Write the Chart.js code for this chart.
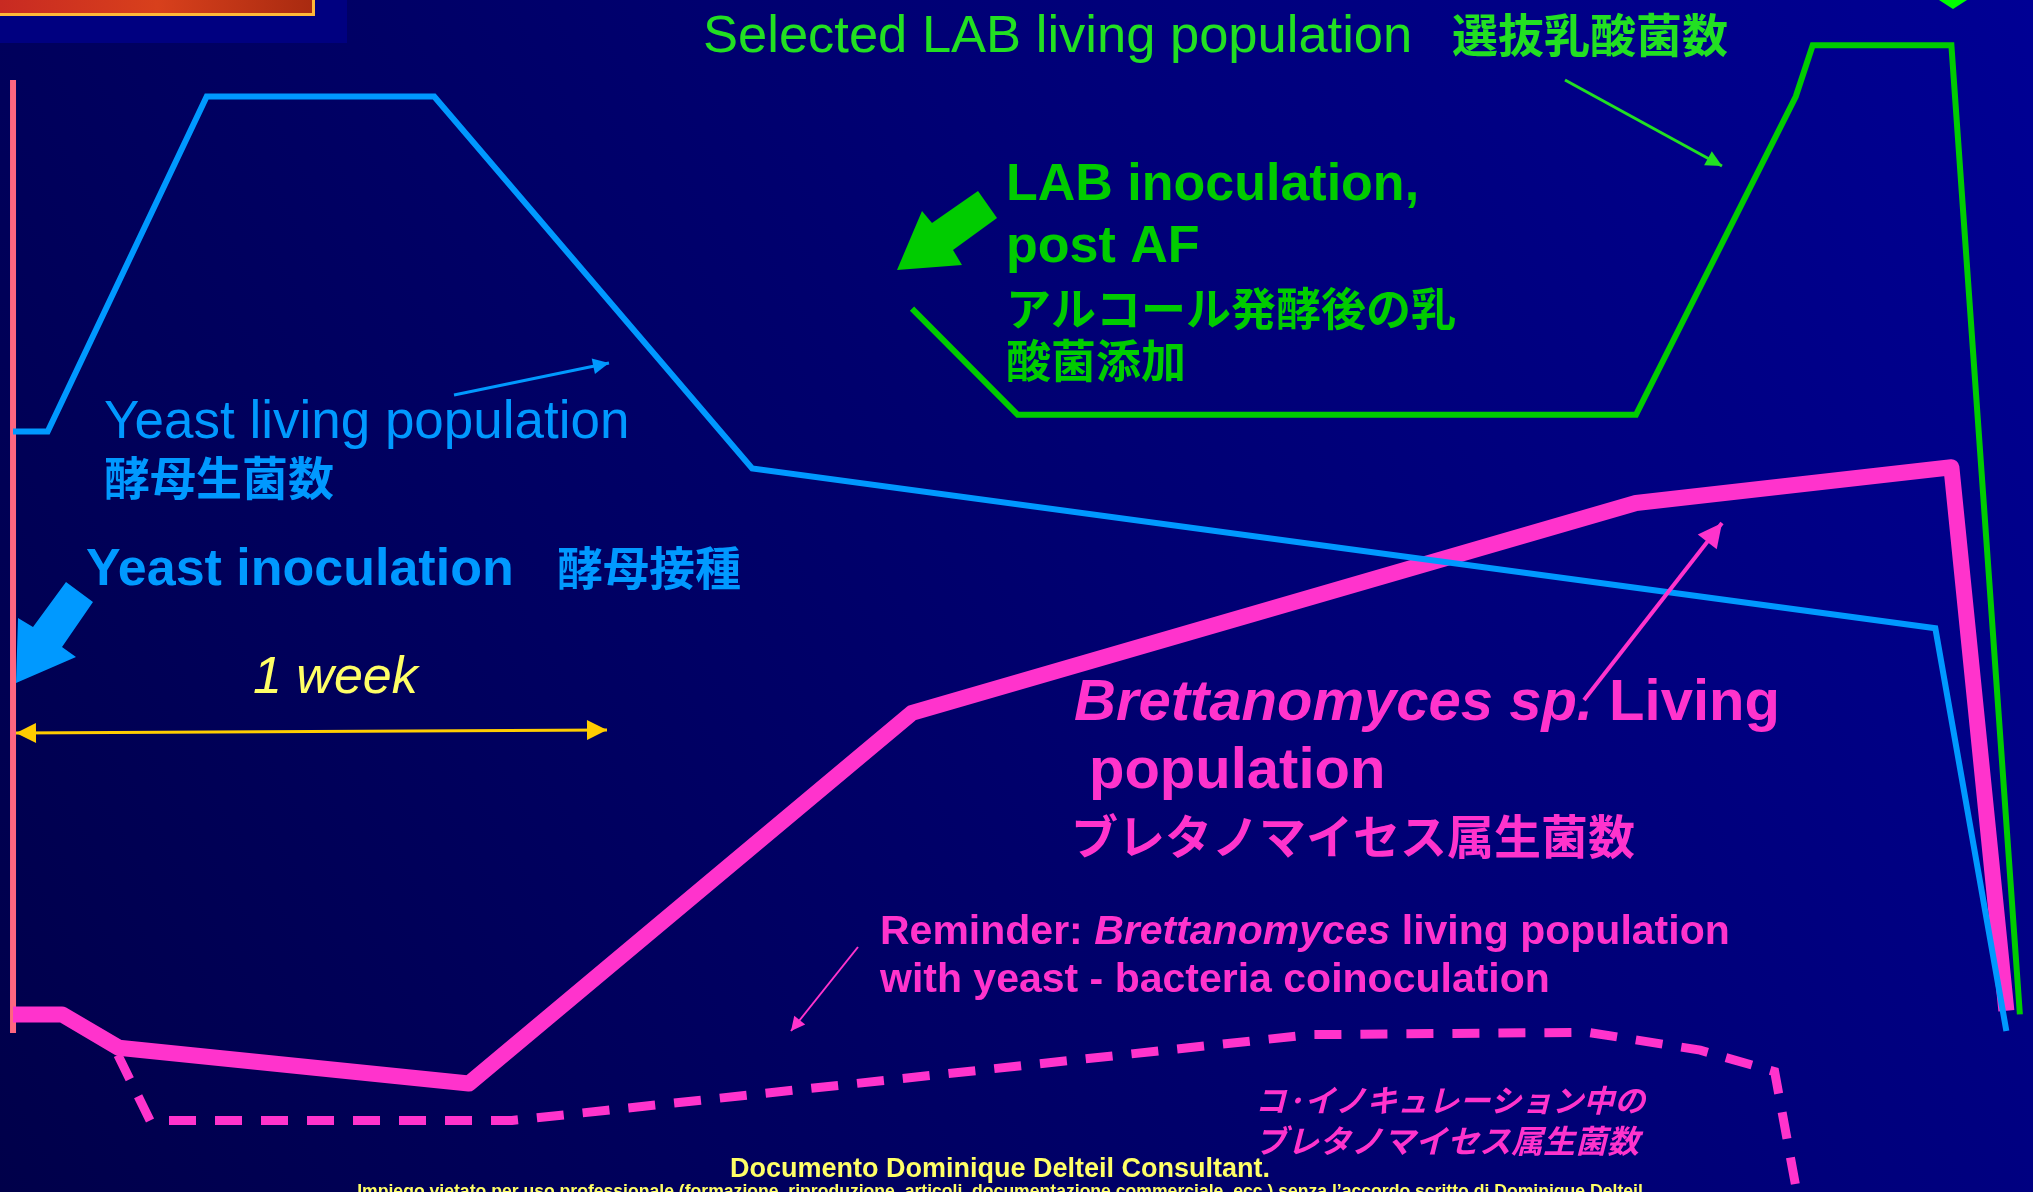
<!DOCTYPE html>
<html>
<head>
<meta charset="utf-8">
<script src="https://cdn.jsdelivr.net/npm/chart.js@4.4.1/dist/chart.umd.min.js"></script>
<style>
  html, body { margin: 0; padding: 0; background: #000060; overflow: hidden; }
  #myChart { display: block; width: 2033px; height: 1192px; }
</style>
</head>
<body>
<canvas id="myChart" width="2033" height="1192"></canvas>
<script>
// time in days after yeast inoculation, population in relative units (0-100)
const dayMin = -0.154;
const dayMax = 23.885;

const yeastDays = [0, 0.41, 2.29, 4.98, 8.74, 22.73, 23.57];
const yeastPop  = [63.8, 63.8, 91.9, 91.9, 60.7, 47.3, 13.5];

const labDays = [10.63, 11.88, 19.19, 21.08, 21.28, 22.92, 23.73];
const labPop  = [74.1, 65.2, 65.2, 91.9, 96.2, 96.2, 14.9];

const brettDays = [0, 0.58, 1.25, 5.39, 10.63, 19.19, 22.92, 23.57];
const brettPop  = [14.9, 14.9, 12.1, 9.1, 40.2, 57.8, 60.8, 15.2];

// reminder: brett with yeast - bacteria coinoculation
const coinocDays = [1.24, 1.62, 5.90, 15.34, 18.62, 19.95, 20.83, 21.11];
const coinocPop  = [11.5, 6.0, 6.0, 13.2, 13.4, 11.9, 10.1, -0.7];

const BLUE = '#0099ff';
const GREEN = '#00cc00';
const PINK = '#ff33cc';
const YELLOW = '#ffff66';

const latin = '"Liberation Sans", Arial, sans-serif';
const jp = '"Noto Sans CJK JP", sans-serif';

function pts(xs, ys) {
  return xs.map((x, i) => ({ x: x, y: ys[i] }));
}

function put(c, text, x, y, font, color, align, baseline) {
  c.font = font;
  c.fillStyle = color;
  c.textAlign = align || 'left';
  c.textBaseline = baseline || 'alphabetic';
  c.fillText(text, x, y);
}

// several font runs on one line
function runs(c, parts, x, y, color) {
  c.fillStyle = color;
  c.textAlign = 'left';
  c.textBaseline = 'alphabetic';
  parts.forEach(p => {
    c.font = p[1];
    c.fillText(p[0], x, y);
    x += c.measureText(p[0]).width;
  });
}

function arrow(c, x1, y1, x2, y2, color, lw, head, both) {
  c.strokeStyle = color;
  c.fillStyle = color;
  c.lineWidth = lw;
  const a = Math.atan2(y2 - y1, x2 - x1);
  const tip = (x, y, ang) => {
    c.beginPath();
    c.moveTo(x, y);
    c.lineTo(x - head * Math.cos(ang) + head * 0.5 * Math.sin(ang), y - head * Math.sin(ang) - head * 0.5 * Math.cos(ang));
    c.lineTo(x - head * Math.cos(ang) - head * 0.5 * Math.sin(ang), y - head * Math.sin(ang) + head * 0.5 * Math.cos(ang));
    c.closePath();
    c.fill();
  };
  c.beginPath();
  c.moveTo(x1, y1);
  c.lineTo(x2, y2);
  c.stroke();
  tip(x2, y2, a);
  if (both) tip(x1, y1, a + Math.PI);
}

function poly(c, p, color) {
  c.fillStyle = color;
  c.beginPath();
  c.moveTo(p[0][0], p[0][1]);
  for (let i = 1; i < p.length; i++) c.lineTo(p[i][0], p[i][1]);
  c.closePath();
  c.fill();
}

const slide = {
  id: 'slide',
  beforeDraw(chart) {
    const c = chart.ctx, w = chart.width, h = chart.height;
    c.save();
    const g = c.createLinearGradient(0, h, w, 0);
    g.addColorStop(0, '#00004a');
    g.addColorStop(0.5, '#00006e');
    g.addColorStop(1, '#000094');
    c.fillStyle = g;
    c.fillRect(0, 0, w, h);
    // photo strip, top left
    c.fillStyle = '#000080';
    c.fillRect(0, 0, 347, 43);
    const r = c.createLinearGradient(0, 0, 315, 0);
    r.addColorStop(0, '#c82a22');
    r.addColorStop(0.5, '#d8401c');
    r.addColorStop(1, '#a82a10');
    c.fillStyle = r;
    c.fillRect(0, 0, 315, 16);
    c.fillStyle = '#ffb838';
    c.fillRect(0, 13, 315, 3);
    c.fillRect(312, 0, 3, 16);
    // small green marker at top right
    poly(c, [[1939, 0], [1967, 0], [1953, 9]], '#00ff00');
    c.restore();
  },
  beforeDatasetsDraw(chart) {
    const c = chart.ctx;
    const x0 = chart.scales.x.getPixelForValue(0);
    c.save();
    c.strokeStyle = '#ff6680';
    c.lineWidth = 6;
    c.beginPath();
    c.moveTo(x0, 80);
    c.lineTo(x0, 1033);
    c.stroke();
    c.restore();
  },
  afterDatasetsDraw(chart) {
    const c = chart.ctx;
    c.save();

    // LAB
    put(c, 'Selected LAB living population', 703, 52, '52.5px ' + latin, '#22e022');
    put(c, '選抜乳酸菌数', 1452, 35, 'bold 46px ' + jp, '#22e022', 'left', 'middle');
    arrow(c, 1565, 80, 1722, 166, '#22e022', 3, 16);
    put(c, 'LAB inoculation,', 1006, 200, 'bold 52px ' + latin, GREEN);
    put(c, 'post AF', 1006, 262, 'bold 52px ' + latin, GREEN);
    put(c, 'アルコール発酵後の乳', 1006, 309, 'bold 45px ' + jp, GREEN, 'left', 'middle');
    put(c, '酸菌添加', 1006, 361, 'bold 45px ' + jp, GREEN, 'left', 'middle');
    poly(c, [[897, 270], [922, 211], [932, 223], [978, 191], [997, 218], [953, 250], [962, 265]], GREEN);

    // yeast
    put(c, 'Yeast living population', 104, 438, '53px ' + latin, BLUE);
    put(c, '酵母生菌数', 104, 478, 'bold 46px ' + jp, BLUE, 'left', 'middle');
    arrow(c, 454, 395, 609, 363, BLUE, 3, 16);
    put(c, 'Yeast inoculation', 86, 585, 'bold 52px ' + latin, BLUE);
    put(c, '酵母接種', 557, 568, 'bold 46px ' + jp, BLUE, 'left', 'middle');
    poly(c, [[16, 683], [18, 618], [33, 627], [66, 582], [93, 602], [62, 647], [76, 657]], BLUE);

    // one week
    put(c, '1 week', 253, 693, 'italic 52px ' + latin, YELLOW);
    arrow(c, 16, 733, 607, 730, '#ffcc00', 3, 20, true);

    // brettanomyces
    runs(c, [['Brettanomyces sp.', 'italic bold 58px ' + latin], [' Living', 'bold 58px ' + latin]], 1074, 720, PINK);
    put(c, 'population', 1089, 788, 'bold 58px ' + latin, PINK);
    put(c, 'ブレタノマイセス属生菌数', 1071, 836, 'bold 47px ' + jp, PINK, 'left', 'middle');
    arrow(c, 1584, 700, 1722, 523, PINK, 4, 24);

    runs(c, [['Reminder: ', 'bold 41px ' + latin], ['Brettanomyces', 'italic bold 41px ' + latin], [' living population', 'bold 41px ' + latin]], 880, 944, PINK);
    put(c, 'with yeast - bacteria coinoculation', 880, 992, 'bold 41px ' + latin, PINK);
    arrow(c, 858, 947, 791, 1031, PINK, 2, 14);
    put(c, 'コ·イノキュレーション中の', 1255, 1100, 'italic bold 31px ' + jp, PINK, 'left', 'middle');
    put(c, 'ブレタノマイセス属生菌数', 1255, 1141, 'italic bold 32px ' + jp, PINK, 'left', 'middle');

    // footer
    put(c, 'Documento Dominique Delteil Consultant.', 1000, 1177, 'bold 27px ' + latin, YELLOW, 'center');
    const note = 'Impiego vietato per uso professionale (formazione, riproduzione, articoli, documentazione commerciale, ecc.) senza l\u2019accordo scritto di Dominique Delteil';
    c.font = 'bold 16px ' + latin;
    const size = 16 * 1286 / c.measureText(note).width;
    put(c, note, 1000, 1197, 'bold ' + size.toFixed(1) + 'px ' + latin, YELLOW, 'center');

    c.restore();
  }
};

const ctx = document.getElementById('myChart').getContext('2d');

new Chart(ctx, {
  type: 'line',
  data: {
    datasets: [
      {
        label: 'Coinoculation Brettanomyces',
        data: pts(coinocDays, coinocPop),
        borderColor: PINK,
        borderWidth: 9,
        borderDash: [27, 19]
      },
      {
        label: 'Yeast living population',
        data: pts(yeastDays, yeastPop),
        borderColor: BLUE,
        borderWidth: 6
      },
      {
        label: 'Selected LAB living population',
        data: pts(labDays, labPop),
        borderColor: GREEN,
        borderWidth: 6
      },
      {
        label: 'Brettanomyces sp. living population',
        data: pts(brettDays, brettPop),
        borderColor: PINK,
        borderWidth: 16,
        borderJoinStyle: 'round'
      }
    ]
  },
  options: {
    responsive: false,
    animation: false,
    layout: { padding: 0, autoPadding: false },
    elements: {
      point: { radius: 0, hoverRadius: 0 },
      line: { tension: 0, fill: false }
    },
    plugins: {
      legend: { display: false },
      tooltip: { enabled: false }
    },
    scales: {
      x: { type: 'linear', min: dayMin, max: dayMax, display: false },
      y: { type: 'linear', min: 0, max: 100, display: false }
    }
  },
  plugins: [slide]
});
</script>
</body>
</html>
